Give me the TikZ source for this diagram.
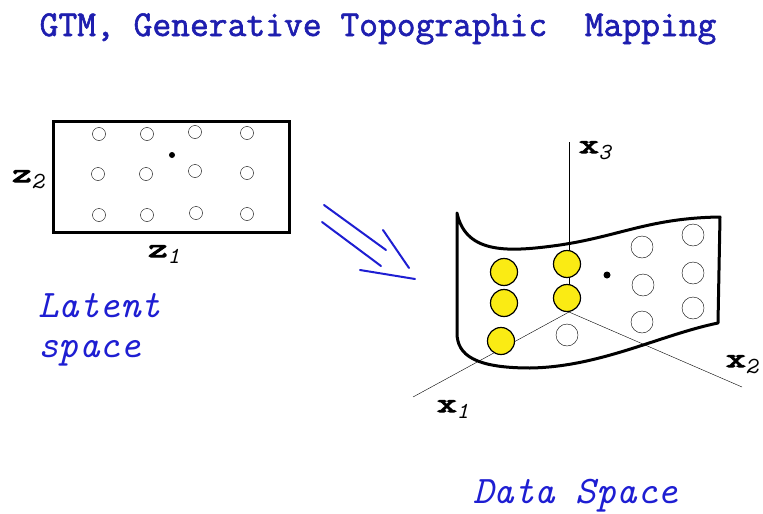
\documentclass[tikz,border=0pt]{standalone}
\usepackage{fontspec}
\usepackage{graphicx}
\setmonofont{Latin Modern Mono}[AutoFakeBold=1.6]
\newfontfamily\heavytt{Latin Modern Mono}[FakeBold=4]

\definecolor{gtmblue}{RGB}{30,30,210}
\definecolor{gtmnavy}{RGB}{30,30,175}
\definecolor{gtmyellow}{RGB}{250,235,20}

% bold coordinate name with italic index
\newcommand{\axlab}[2]{\scalebox{1.4}[1]{\heavytt\fontsize{27}{27}\selectfont #1}\raisebox{-6pt}{\ttfamily\fontsize{23}{23}\selectfont\itshape #2}}

\begin{document}
\begin{tikzpicture}[x=1pt, y=-1pt,
    bluetext/.style = {gtmblue, font=\ttfamily\itshape\fontsize{39}{44}\selectfont, inner sep=0pt},
    axtext/.style = {inner sep=0pt, anchor=base west},
    latentpt/.style = {circle, draw, thin, fill=white, minimum size=13pt, inner sep=0pt},
    datapt/.style = {circle, draw, thin, fill=white, minimum size=22pt, inner sep=0pt},
    hitpt/.style = {circle, draw, line width=1.2pt, fill=gtmyellow, minimum size=27pt, inner sep=0pt},
    spot/.style = {circle, fill=black, inner sep=0pt, minimum size=#1},
    handline/.style = {gtmblue, line width=2pt, line cap=round}]
    \useasboundingbox (0,0) rectangle (763,514);

    % Title
    \node[gtmnavy, inner sep=0pt, anchor=base] (title) at (378,36)
        {\ttfamily\bfseries\fontsize{36.5}{40}\selectfont GTM, Generative Topographic~~Mapping};

    % Latent space grid
    \node[draw, line width=3pt, minimum width=236pt, minimum height=111pt, inner sep=0pt] (latentbox) at (171,176.5) {};
    \foreach \p [count=\i] in {(99,134),(147,134),(195,132),(247,133),
                               (98,174),(146,174),(195,171),(247,173),
                               (99,215),(147,215),(196,213),(247,214)}
        \node[latentpt] (l\i) at \p {};
    \node[spot=6pt] (lspot) at (172,155) {};
    \node[axtext] (ztwo) at (12,182) {\axlab{z}{2}};
    \node[axtext] (zone) at (148,257) {\axlab{z}{1}};

    \node[bluetext, anchor=base west] (latent) at (38,317) {Latent};
    \node[bluetext, anchor=base west] (space) at (38,357) {space};

    % Mapping arrow
    \draw[handline] (324,205) -- (386,250);
    \draw[handline] (322,222) -- (381,266);
    \draw[handline] (383,230) -- (409,268);
    \draw[handline] (360,270) -- (415,279);

    % Axes of data space
    \coordinate (origin) at (569,312);
    \coordinate (xthree) at (569,142);
    \coordinate (xone) at (413,397);
    \coordinate (xtwo) at (742,387);
    \draw[thin] (origin) -- (xthree);
    \draw[thin] (origin) -- (xone);
    \draw[thin] (origin) -- (xtwo);
    \node[axtext] (xthreelab) at (579,153) {\axlab{x}{3}};
    \node[axtext] (xonelab) at (437,412) {\axlab{x}{1}};
    \node[axtext] (xtwolab) at (726,367) {\axlab{x}{2}};

    % Manifold sheet
    \draw[line width=3pt, line join=round] (457,213) .. controls (466,255) and (510,252) .. (560,245)
        .. controls (620,236) and (650,218) .. (720,217) -- (718,323)
        .. controls (660,335) and (600,367) .. (530,368)
        .. controls (475,368) and (457,355) .. (457,333) -- cycle;

    % Points on the sheet
    \foreach \p [count=\i] in {(567,335),(642,247),(643,285),(642,322),(693,235),(693,273),(693,308)}
        \node[datapt] (d\i) at \p {};
    \foreach \p [count=\i] in {(504,272),(504,303),(501,341),(567,264),(567,298)}
        \node[hitpt] (h\i) at \p {};
    \node[spot=7pt] (dspot) at (607,275) {};

    \node[bluetext, anchor=base west] (dataspace) at (473,503) {Data Space};
\end{tikzpicture}
\end{document}
